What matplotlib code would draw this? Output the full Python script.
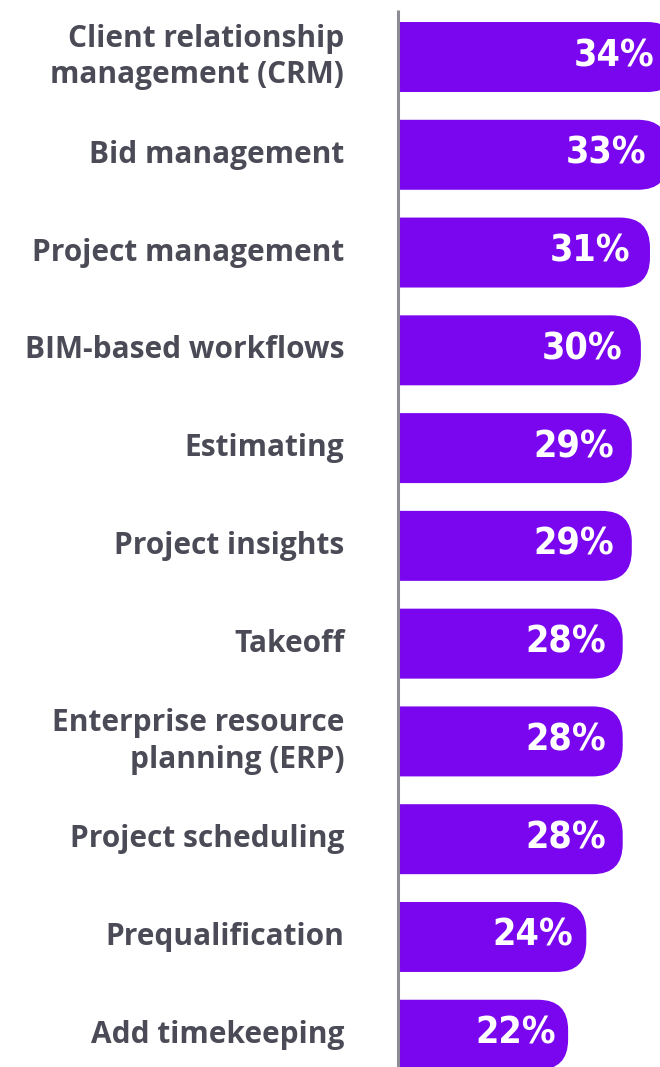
import matplotlib.pyplot as plt
from matplotlib.patches import FancyBboxPatch

labels = ['Client relationship\nmanagement (CRM)', 'Bid management', 'Project management',
          'BIM-based workflows', 'Estimating', 'Project insights', 'Takeoff',
          'Enterprise resource\nplanning (ERP)', 'Project scheduling', 'Prequalification',
          'Add timekeeping']
values = [34, 33, 31, 30, 29, 29, 28, 28, 28, 24, 22]

bar_color = '#7906ee'
label_color = '#4b4b57'

fig = plt.figure(figsize=(6.6, 10.67), dpi=100)
ax = fig.add_axes([398 / 660, 0, 1 - 398 / 660, 1])

# ~9.1 px per percent, bars appear to start left of the axis line
ax.set_xlim(3.3, 32.1)
ax.set_ylim(10.33, -0.583)
ax.axis('off')

px_x = 9.1     # px per x unit
px_y = 97.8    # px per y unit
bar_h = 70 / px_y
r_px = 30
rx = r_px / px_x
ry = r_px / px_y

for i, v in enumerate(values):
    left = -10
    box = FancyBboxPatch((left, i - bar_h / 2), v - left, bar_h,
                         boxstyle=f'round,pad=0,rounding_size={rx}',
                         mutation_aspect=ry / rx,
                         facecolor=bar_color, edgecolor='none')
    ax.add_patch(box)
    # label sits a bit further in on the longer bars
    off = -(52 + (v - 22) * 0.9)
    ax.annotate(f'{v}%', xy=(v, i), xytext=(off, 1), textcoords='offset pixels',
                ha='center', va='center', color='white', fontsize=27,
                fontweight='bold', fontstretch='condensed',
                family=['DejaVu Sans'], annotation_clip=False)
    ax.text(-0.205, i, labels[i], transform=ax.get_yaxis_transform(),
            ha='right', va='center', ma='right', fontsize=21.5, fontweight='bold',
            color=label_color, family=['Open Sans', 'DejaVu Sans'], linespacing=1.28)

ax.vlines(3.3, -0.48, 10.33, color='#8c8c94', linewidth=2.2, clip_on=False)

fig.savefig('out.png', dpi=100)
